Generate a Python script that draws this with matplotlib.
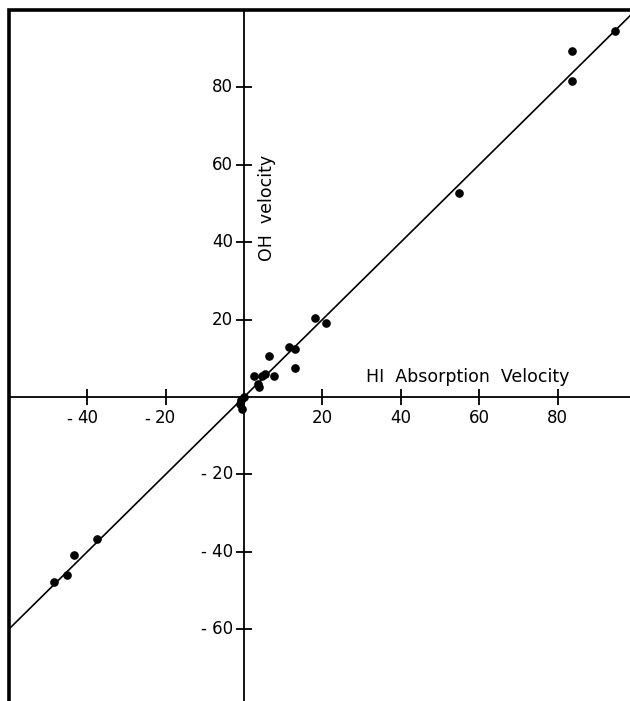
import matplotlib
matplotlib.use("Agg")
import matplotlib.pyplot as plt
import numpy as np

# data (HI absorption velocity, OH velocity)
hi_vel = [94.6, 83.6, 83.6, 54.9, 18.1, 20.9, 11.5, 13.0, 12.9, 6.4,
          2.6, 4.7, 5.4, 7.7, 3.6, 3.9, 0.0, -0.8, -1.1, -0.6,
          -37.6, -43.4, -45.2, -48.5]
oh_vel = [94.7, 89.4, 81.7, 52.6, 20.3, 19.2, 13.0, 12.3, 7.4, 10.7,
          5.5, 5.5, 5.9, 5.3, 3.3, 2.5, 0.0, -0.8, -1.9, -3.1,
          -36.8, -40.8, -46.0, -47.9]
fit_x = [-60, 98.5]
fit_slope = 1.0

xticks = [-40, -20, 20, 40, 60, 80]
yticks = [-60, -40, -20, 20, 40, 60, 80]
xlabel = "HI  Absorption  Velocity"
ylabel = "OH  velocity"

fig = plt.figure(figsize=(6.30, 7.01), dpi=100)
ax = fig.add_axes([9 / 630, 0, 621 / 630, 691 / 701])
ax.set_xlim(-60, 98.5)
ax.set_ylim(-78.6, 100)

# frame: left and top heavy lines
ax.plot([0, 0, 1], [0, 1, 1], transform=ax.transAxes, color="black",
        lw=2.6, clip_on=False, solid_joinstyle="miter", zorder=5)

for s in ["right", "top"]:
    ax.spines[s].set_visible(False)
ax.spines["left"].set_position(("data", 0))
ax.spines["bottom"].set_position(("data", 0))
ax.spines["left"].set_linewidth(1.3)
ax.spines["bottom"].set_linewidth(1.3)

ax.set_xticks(xticks)
ax.set_yticks(yticks)
ax.tick_params(direction="inout", length=11, width=1.3)
ax.set_xticklabels([])
ax.set_yticklabels([])

fs = 12
for v in xticks:
    ax.annotate(str(abs(v)), xy=(v, 0), xytext=(0, -9), textcoords="offset points",
                ha="center", va="top", fontsize=fs)
    if v < 0:
        ax.annotate("-", xy=(v, 0), xytext=(-11, -9), textcoords="offset points",
                    ha="right", va="top", fontsize=fs)
for v in yticks:
    ax.annotate(("- " if v < 0 else "") + str(abs(v)), xy=(0, v), xytext=(-8, 0),
                textcoords="offset points", ha="right", va="center", fontsize=fs)

# fit line
fx = np.array(fit_x)
ax.plot(fx, fit_slope * fx, color="black", lw=1.2, clip_on=True)

ax.plot(hi_vel, oh_vel, "o", color="black", markersize=5.2, zorder=6)

ax.text(31, 5.2, xlabel, fontsize=12.5, ha="left", va="center")
ax.text(5.8, 48.8, ylabel, fontsize=12.5, rotation=90, ha="center", va="center")

fig.savefig("out.png", dpi=100)
